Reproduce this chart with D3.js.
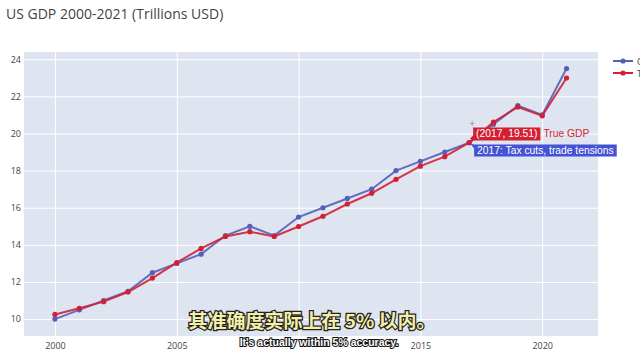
<!DOCTYPE html>
<html><head><meta charset="utf-8">
<script src="https://cdn.jsdelivr.net/npm/d3@7"></script>
<style>body{margin:0;background:#fff;overflow:hidden}svg{display:block;font-family:"Open Sans",sans-serif}</style>
</head><body><svg id="c" width="640" height="356"></svg>
<script>
const years = d3.range(2000, 2022);
const estimate = [10.0,10.5,11.0,11.5,12.5,13.0,13.5,14.5,15.0,14.5,15.5,16.0,16.5,17.0,18.0,18.5,19.0,19.5,20.5,21.5,21.0,23.5];
const trueGdp = [10.25,10.58,10.94,11.46,12.21,13.04,13.81,14.45,14.71,14.45,14.99,15.54,16.2,16.78,17.53,18.24,18.75,19.51,20.61,21.43,20.95,22.99];
const seriesNames = ["ChatGPT Estimate","True GDP"];
const yTicks = [10,12,14,16,18,20,22,24];
const xGrid = [2000,2005,2010,2015,2020];
const xLabels = [2000,2005,2015,2020];
const hoverYear = 2017;
const hoverNote = "2017: Tax cuts, trade tensions";

const svg = d3.select("#c");
const L=24,R=598,T=52,B=336;
const x = d3.scaleLinear().domain([1998.73,2022.29]).range([L,R]);
const y = d3.scaleLinear().domain([9.09,24.39]).range([B,T]);

svg.append("text").attr("x",6).attr("y",19).attr("font-size",14).attr("fill","#444").text("US GDP 2000-2021 (Trillions USD)");
svg.append("rect").attr("x",L).attr("y",T).attr("width",R-L).attr("height",B-T).attr("fill","#dee5f0");

const gx = svg.append("g").attr("transform",`translate(0,${B})`)
  .call(d3.axisBottom(x).tickValues(xGrid).tickFormat(d=>xLabels.includes(d)?d3.format("d")(d):"").tickSize(-(B-T)).tickPadding(7));
const gy = svg.append("g").attr("transform",`translate(${L},0)`)
  .call(d3.axisLeft(y).tickValues(yTicks).tickSize(-(R-L)).tickPadding(3));
[gx,gy].forEach(g=>{
  g.select(".domain").remove();
  g.selectAll(".tick line").attr("stroke","#fff").attr("stroke-width",1);
  g.selectAll(".tick text").attr("fill","#444").attr("font-size",9).attr("font-family","Open Sans, sans-serif");
});
gx.selectAll(".tick text").filter(function(){return this.textContent==="";}).remove();

const colors = ["#5560b8","#d41f33"];
const data = [estimate, trueGdp];
const line = d3.line().x((d,i)=>x(years[i])).y(d=>y(d));
data.forEach((s,k)=>{
  svg.append("path").datum(s).attr("d",line).attr("fill","none").attr("stroke",colors[k]).attr("stroke-width",2).attr("stroke-opacity",0.9);
  svg.selectAll(null).data(s).enter().append("circle")
    .attr("cx",(d,i)=>x(years[i])).attr("cy",d=>y(d)).attr("r",2.6).attr("fill",colors[k]);
});

// legend
seriesNames.forEach((n,k)=>{
  const ly = 61 + k*12;
  svg.append("line").attr("x1",613).attr("x2",633).attr("y1",ly).attr("y2",ly).attr("stroke",colors[k]).attr("stroke-width",2);
  svg.append("circle").attr("cx",623).attr("cy",ly).attr("r",2.6).attr("fill",colors[k]);
  svg.append("text").attr("x",637).attr("y",ly+3.5).attr("font-size",9).attr("fill","#444").text(n);
});

// hover labels
const hi = years.indexOf(hoverYear);
const hx = x(hoverYear), hy = y(trueGdp[hi]);
const hf = "Liberation Sans, Arial, sans-serif";
svg.append("text").attr("x",hx+3).attr("y",hy-16).attr("font-size",10).attr("fill","#888").attr("text-anchor","middle").text("+");
const rg = svg.append("g");
const rPath = rg.append("path").attr("fill",colors[1]);
const rt = rg.append("text").attr("x",hx+7).attr("y",hy-5.5).attr("font-size",10.3).attr("fill","#fff").attr("font-family",hf).text(`(${hoverYear}, ${trueGdp[hi].toFixed(2)})`);
const rw = rt.node().getComputedTextLength();
const r1 = hx+4, r2 = hx+rw+10;
rPath.attr("d",`M${hx+1},${hy-4} L${r1},${hy-7} L${r1},${hy-15} L${r2},${hy-15} L${r2},${hy-2} L${r1},${hy-2} Z`);
rg.append("text").attr("x",r2+3).attr("y",hy-5.5).attr("font-size",10.3).attr("fill",colors[1]).attr("font-family",hf).text(seriesNames[1]);
const bg = svg.append("g");
const bPath = bg.append("path").attr("fill","#4452d4");
const bt = bg.append("text").attr("x",hx+8).attr("y",hy+11).attr("font-size",10.3).attr("fill","#fff").attr("font-family",hf).text(hoverNote);
const bw = bt.node().getComputedTextLength();
const b2 = hx+bw+11;
bPath.attr("d",`M${hx+1},${hy+1} L${hx+5},${hy+2} L${b2},${hy+2} L${b2},${hy+14} L${hx+5},${hy+14} L${hx+5},${hy+6} Z`);

// subtitles
svg.append("text").attr("x",312).attr("y",328).attr("text-anchor","middle").attr("font-size",19).attr("font-weight","bold")
  .attr("font-family","Noto Sans CJK SC, sans-serif").attr("fill","#f3efa8").attr("stroke","#222").attr("stroke-width",2.5).attr("paint-order","stroke")
  .text("其准确度实际上在 5% 以内。");
svg.append("text").attr("x",319).attr("y",346).attr("text-anchor","middle").attr("font-size",10.5).attr("font-weight","bold")
  .attr("font-family","Liberation Sans, Arial, sans-serif").attr("fill","#fff").attr("stroke","#111").attr("stroke-width",2).attr("paint-order","stroke")
  .text("It's actually within 5% accuracy.");
</script></body></html>
